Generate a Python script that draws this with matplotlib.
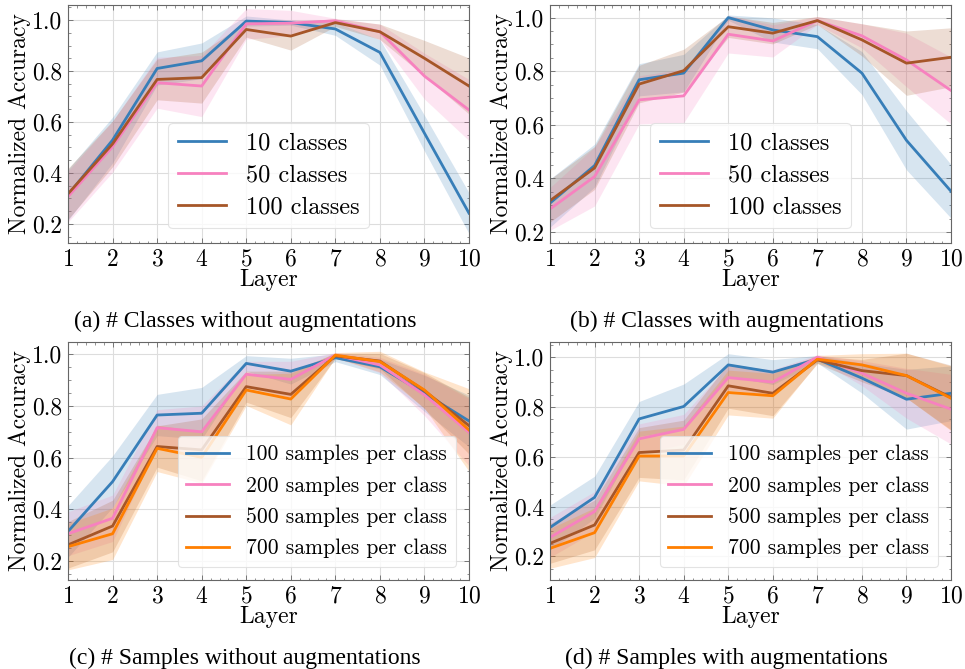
import matplotlib
matplotlib.use("Agg")
import matplotlib.pyplot as plt
import numpy as np
from matplotlib.ticker import AutoMinorLocator, FormatStrFormatter

plt.rcParams['font.family'] = 'serif'
plt.rcParams['font.serif'] = ['cmr10', 'DejaVu Serif']
plt.rcParams['axes.formatter.use_mathtext'] = True

layers = np.arange(1, 11)

# (a) classes, no augmentation
a_mean = {
    '10 classes':  [0.314, 0.529, 0.810, 0.840, 0.996, 0.990, 0.965, 0.873, 0.556, 0.242],
    '50 classes':  [0.307, 0.503, 0.754, 0.741, 0.985, 0.988, 0.997, 0.954, 0.780, 0.647],
    '100 classes': [0.318, 0.514, 0.767, 0.774, 0.963, 0.937, 0.990, 0.954, 0.850, 0.741],
}
a_std = {
    '10 classes':  [0.10, 0.09, 0.065, 0.07, 0.02, 0.01, 0.025, 0.05, 0.07, 0.08],
    '50 classes':  [0.10, 0.10, 0.10, 0.12, 0.06, 0.05, 0.01, 0.03, 0.09, 0.12],
    '100 classes': [0.10, 0.09, 0.08, 0.10, 0.03, 0.055, 0.015, 0.03, 0.07, 0.11],
}

# (b) classes, with augmentation
b_mean = {
    '10 classes':  [0.308, 0.448, 0.768, 0.793, 1.000, 0.954, 0.929, 0.793, 0.542, 0.352],
    '50 classes':  [0.286, 0.407, 0.693, 0.708, 0.938, 0.913, 0.989, 0.932, 0.842, 0.728],
    '100 classes': [0.317, 0.439, 0.752, 0.802, 0.966, 0.942, 0.989, 0.917, 0.830, 0.852],
}
b_std = {
    '10 classes':  [0.09, 0.08, 0.06, 0.07, 0.01, 0.045, 0.045, 0.08, 0.11, 0.10],
    '50 classes':  [0.08, 0.11, 0.09, 0.10, 0.07, 0.06, 0.015, 0.045, 0.10, 0.125],
    '100 classes': [0.08, 0.08, 0.07, 0.08, 0.04, 0.04, 0.015, 0.06, 0.12, 0.11],
}

# (c) samples per class, no augmentation
c_mean = {
    '100 samples per class': [0.314, 0.507, 0.765, 0.772, 0.965, 0.935, 0.987, 0.952, 0.849, 0.742],
    '200 samples per class': [0.305, 0.365, 0.716, 0.700, 0.923, 0.903, 0.997, 0.959, 0.843, 0.698],
    '500 samples per class': [0.262, 0.335, 0.643, 0.630, 0.875, 0.845, 0.994, 0.974, 0.859, 0.724],
    '700 samples per class': [0.255, 0.305, 0.636, 0.601, 0.862, 0.827, 0.997, 0.972, 0.862, 0.707],
}
c_std = {
    '100 samples per class': [0.10, 0.10, 0.08, 0.10, 0.03, 0.05, 0.015, 0.03, 0.07, 0.10],
    '200 samples per class': [0.085, 0.09, 0.07, 0.10, 0.05, 0.07, 0.01, 0.03, 0.08, 0.13],
    '500 samples per class': [0.09, 0.10, 0.08, 0.12, 0.06, 0.09, 0.01, 0.03, 0.07, 0.11],
    '700 samples per class': [0.09, 0.10, 0.09, 0.10, 0.06, 0.10, 0.01, 0.04, 0.07, 0.16],
}

# (d) samples per class, with augmentation
d_mean = {
    '100 samples per class': [0.316, 0.437, 0.752, 0.802, 0.969, 0.940, 0.992, 0.916, 0.831, 0.855],
    '200 samples per class': [0.276, 0.380, 0.672, 0.710, 0.918, 0.900, 1.000, 0.936, 0.855, 0.791],
    '500 samples per class': [0.252, 0.326, 0.617, 0.627, 0.885, 0.855, 0.989, 0.946, 0.926, 0.838],
    '700 samples per class': [0.232, 0.295, 0.603, 0.603, 0.858, 0.845, 0.992, 0.969, 0.926, 0.835],
}
d_std = {
    '100 samples per class': [0.09, 0.085, 0.07, 0.09, 0.045, 0.05, 0.015, 0.06, 0.12, 0.11],
    '200 samples per class': [0.08, 0.08, 0.06, 0.06, 0.05, 0.05, 0.01, 0.05, 0.10, 0.14],
    '500 samples per class': [0.08, 0.10, 0.10, 0.12, 0.09, 0.09, 0.015, 0.045, 0.09, 0.13],
    '700 samples per class': [0.08, 0.10, 0.10, 0.12, 0.09, 0.09, 0.015, 0.045, 0.09, 0.13],
}

colors = ['#377eb8', '#f781bf', '#a65628', '#ff7f00']

captions = ['(a) # Classes without augmentations',
            '(b) # Classes with augmentations',
            '(c) # Samples without augmentations',
            '(d) # Samples with augmentations']

fig = plt.figure(figsize=(9.65, 6.69), dpi=100)

W, H = 0.4155, 0.3557
# data, std, axes rect, ylim, legend loc, legend size, legend spacing, caption xy
panels = [
    (a_mean, a_std, [0.0705, 0.6368, W, H], (0.125, 1.059), 'lower center', 17.5, 0.4, (0.254, 0.520)),
    (b_mean, b_std, [0.5700, 0.6368, W, H], (0.159, 1.047), 'lower center', 17.5, 0.4, (0.753, 0.520)),
    (c_mean, c_std, [0.0705, 0.1331, W, H], (0.126, 1.048), 'lower right', 15.5, 0.55, (0.254, 0.016)),
    (d_mean, d_std, [0.5700, 0.1331, W, H], (0.105, 1.061), 'lower right', 15.5, 0.55, (0.753, 0.016)),
]

for (means, stds, rect, ylim, loc, legsize, legsp, cap_xy), cap in zip(panels, captions):
    ax = fig.add_axes(rect)
    for (name, m), c in zip(means.items(), colors):
        m = np.array(m)
        s = np.array(stds[name])
        ax.fill_between(layers, m - s, m + s, color=c, alpha=0.2, lw=0)
        ax.plot(layers, m, color=c, lw=2, label=name)
    ax.set_xlim(1, 10)
    ax.set_ylim(*ylim)
    ax.set_xticks(layers)
    ax.set_yticks([0.2, 0.4, 0.6, 0.8, 1.0])
    ax.yaxis.set_major_formatter(FormatStrFormatter('%.1f'))
    ax.xaxis.set_minor_locator(AutoMinorLocator(5))
    ax.yaxis.set_minor_locator(AutoMinorLocator(4))
    ax.tick_params(which='both', direction='in', top=True, right=True,
                   color='#666666', labelsize=17, pad=4)
    ax.tick_params(which='major', length=3.5, width=0.6)
    ax.tick_params(which='minor', length=1.8, width=0.5)
    for sp in ax.spines.values():
        sp.set_color('#666666')
        sp.set_linewidth(0.8)
    ax.grid(True, color='#dddddd', lw=0.8)
    ax.set_axisbelow(True)
    ax.set_xlabel('Layer', fontsize=17, labelpad=-1)
    ax.set_ylabel('Normalized Accuracy', fontsize=17, labelpad=1)
    leg = ax.legend(loc=loc, fontsize=legsize, frameon=True, fancybox=True,
                    framealpha=0.8, edgecolor='#dddddd', handlelength=2.0,
                    labelspacing=legsp, borderaxespad=0.6)
    leg.get_frame().set_linewidth(0.8)
    fig.text(cap_xy[0], cap_xy[1], cap, ha='center', va='center',
             fontsize=17, family='Liberation Serif')

fig.savefig('out.png', dpi=100)
